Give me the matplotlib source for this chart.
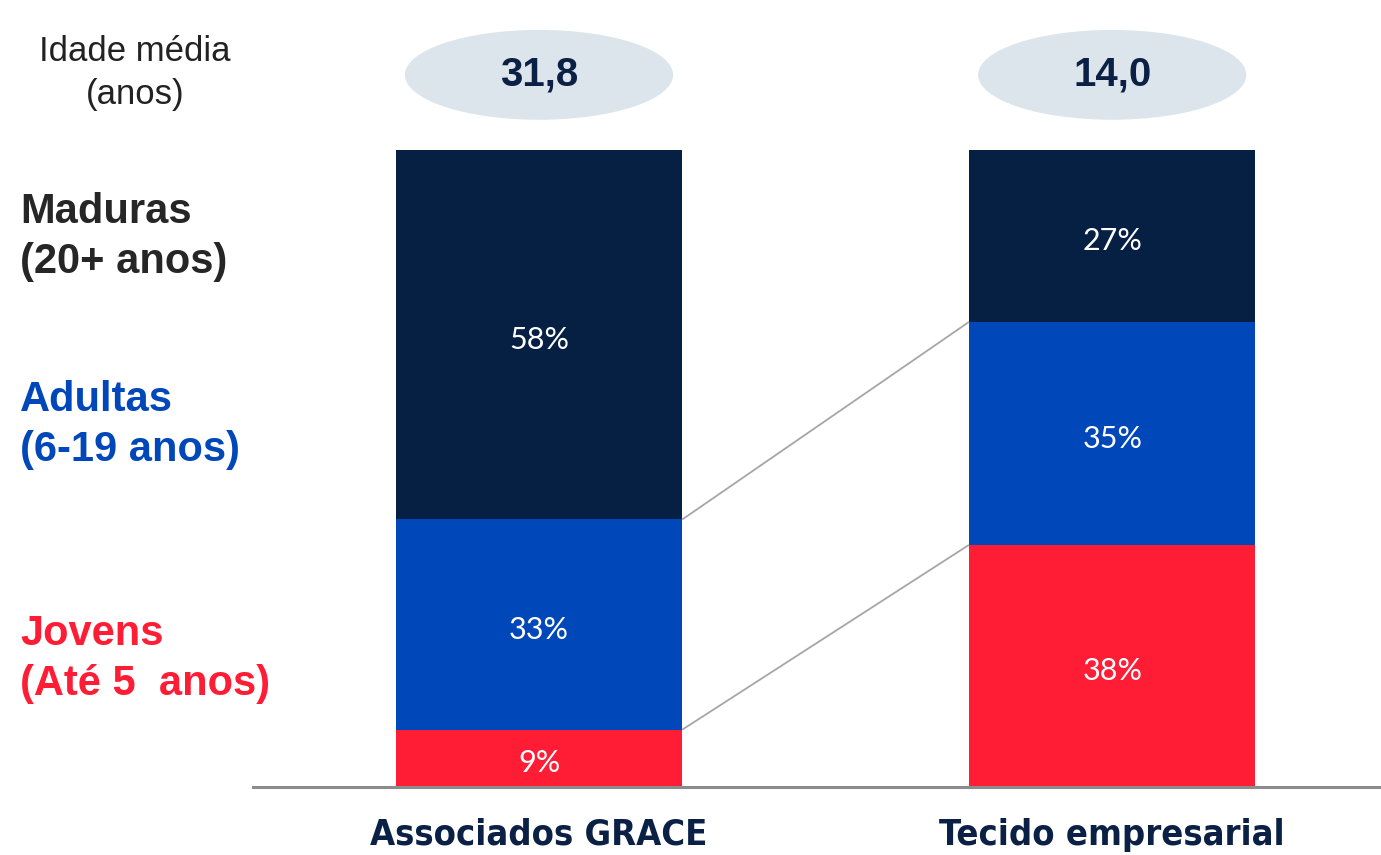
import matplotlib
matplotlib.use("Agg")
import matplotlib.pyplot as plt
from matplotlib.patches import Ellipse

# data
groups = ["Associados GRACE", "Tecido empresarial"]
avg_age = ["31,8", "14,0"]
segments = ["Jovens\n(Até 5  anos)", "Adultas\n(6-19 anos)", "Maduras\n(20+ anos)"]
shares = {
	"Jovens": [9, 38],
	"Adultas": [33, 35],
	"Maduras": [58, 27],
}

colors = ["#FF1C35", "#0047BA", "#062044"]
navy = "#0A2145"

fig = plt.figure(figsize=(13.81, 8.55), dpi=100)
ax = fig.add_axes([253 / 1381, 68 / 855, 1128 / 1381, 637 / 855])
ax.set_xlim(-0.499, 1.469)
ax.set_ylim(0, 100)
ax.axis("off")

x = [0, 1]
width = 0.5
bottoms = [0, 0]
tops = []
for (name, vals), color in zip(shares.items(), colors):
	ax.bar(x, vals, width, bottom=bottoms, color=color, edgecolor="none")
	for xi, v, b in zip(x, vals, bottoms):
		ax.text(xi, b + v / 2 - 0.8, f"{v}%", ha="center", va="center", color="white",
				fontsize=22, family="Lato")
	bottoms = [b + v for b, v in zip(bottoms, vals)]
	tops.append(list(bottoms))

# connector lines between segment boundaries
for t in tops[:2]:
	ax.plot([width / 2, 1 - width / 2], t, color="#A6A6A6", lw=1.3, solid_capstyle="butt")

ax.plot([-0.499, 1.469], [0, 0], color="#8C8C8C", lw=2.2, clip_on=False)

# average age ellipses
for xi, a in zip(x, avg_age):
	ax.add_patch(Ellipse((xi, 111.8), 0.468, 14.1, facecolor="#DCE4EC", edgecolor="none", clip_on=False))
	ax.text(xi, 111.8, a, ha="center", va="center", color=navy, fontsize=29,
			fontweight="bold", family="Liberation Sans")

for xi, g in zip(x, groups):
	ax.text(xi, -7.5, g, ha="center", va="center", color=navy, fontsize=26,
			fontweight="bold", family="DejaVu Sans", fontstretch="condensed")

fig.text(135 / 1381, 1 - 73 / 855, "Idade média\n(anos)", ha="center", va="center",
		 fontsize=25, color="#222222", family="Liberation Sans", linespacing=1.4)

label_y = [659, 425, 237]
label_colors = ["#FF1C35", "#0047BA", "#262626"]
for lab, y, c in zip(segments, label_y, label_colors):
	fig.text(20 / 1381, 1 - y / 855, lab, ha="left", va="center", fontsize=30,
			 fontweight="bold", color=c, family="Liberation Sans", linespacing=1.32)

fig.savefig("out.png", dpi=100)
